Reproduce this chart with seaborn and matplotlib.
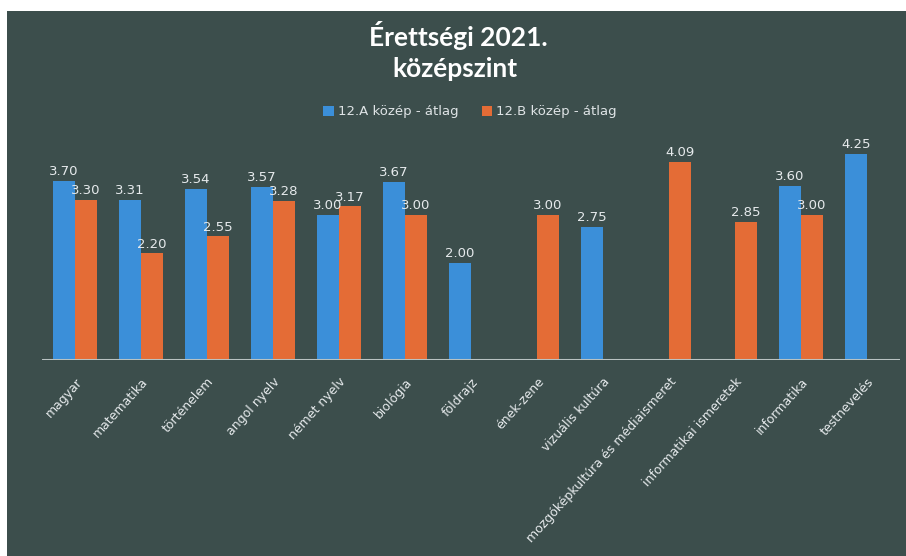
import matplotlib
matplotlib.use("Agg")
import matplotlib.pyplot as plt
import seaborn as sns
import pandas as pd
import numpy as np
from matplotlib.patches import Rectangle

categories = ["magyar", "matematika", "történelem", "angol nyelv", "német nyelv",
              "biológia", "földrajz", "ének-zene", "vizuális kultúra",
              "mozgóképkultúra és médiaismeret", "informatikai ismeretek",
              "informatika", "testnevelés"]
series_names = ["12.A közép - átlag", "12.B közép - átlag"]
values_a = [3.70, 3.31, 3.54, 3.57, 3.00, 3.67, 2.00, np.nan, 2.75, np.nan, np.nan, 3.60, 4.25]
values_b = [3.30, 2.20, 2.55, 3.28, 3.17, 3.00, np.nan, 3.00, np.nan, 4.09, 2.85, 3.00, np.nan]

df = pd.DataFrame({
    "tantárgy": categories * 2,
    "sorozat": [series_names[0]] * len(categories) + [series_names[1]] * len(categories),
    "átlag": values_a + values_b,
})

sns.set_theme(style="white")
plt.rcParams['font.family'] = ['DejaVu Sans']

W, H = 906, 556
fig = plt.figure(figsize=(W / 100, H / 100), dpi=100, facecolor="white")
bg = "#3c4e4c"
fig.patches.append(Rectangle((7 / W, 0), 1 - 7 / W, 1 - 11 / H, transform=fig.transFigure,
                             facecolor=bg, edgecolor="none", zorder=-10))

ax = fig.add_axes([42 / W, (H - 360) / H, (900 - 42) / W, (360 - 142) / H])
ax.set_facecolor("none")

palette = {series_names[0]: "#3b8fd9", series_names[1]: "#e46c36"}
sns.barplot(data=df, x="tantárgy", y="átlag", hue="sorozat", order=categories,
            hue_order=series_names, palette=palette, width=0.67, gap=0.02,
            saturation=1, ax=ax, errorbar=None, linewidth=0, edgecolor="none")

for cont in ax.containers:
    ax.bar_label(cont, fmt="%.2f", color="#e6eaec", fontsize=9.5, padding=2)

ax.set_xlim(-0.5, len(categories) - 0.5)
ax.set_ylim(0, 4.5)
ax.axhline(0, color="#b9c2c2", lw=2.2, zorder=5)
for s in ax.spines.values():
    s.set_visible(False)
ax.set_yticks([])
ax.set_xlabel("")
ax.set_ylabel("")
ax.tick_params(axis="x", length=0, pad=11, colors="#e6eaec")
plt.setp(ax.get_xticklabels(), rotation=48, ha="right", rotation_mode="anchor",
         fontsize=9, color="#e6eaec")

leg = ax.legend(loc="center", bbox_to_anchor=(470 / W, 1 - 112 / H), bbox_transform=fig.transFigure,
                ncol=2, frameon=False, fontsize=9.5, handlelength=0.8, handleheight=0.8,
                handletextpad=0.3, columnspacing=1.8)
for t in leg.get_texts():
    t.set_color("#dfe4e6")

fig.text(458 / W, 1 - 35 / H, "Érettségi 2021.", ha="center", va="center",
         fontsize=19, fontweight="bold", color="white", family=["Lato", "DejaVu Sans"])
fig.text(455 / W, 1 - 69 / H, "középszint", ha="center", va="center",
         fontsize=19, fontweight="bold", color="white", family=["Lato", "DejaVu Sans"])

fig.savefig("out.png", dpi=100, facecolor=fig.get_facecolor())
